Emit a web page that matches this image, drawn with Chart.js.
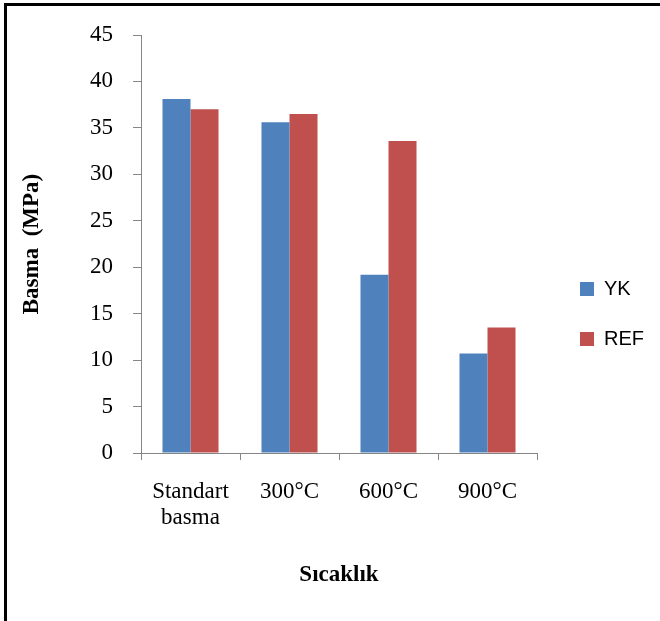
<!DOCTYPE html>
<html>
<head>
<meta charset="utf-8">
<script src="https://cdn.jsdelivr.net/npm/chart.js@4"></script>
<style>
  html, body { margin: 0; padding: 0; background: #fff; overflow: hidden; }
  #frame { position: absolute; left: 4px; top: 3px; width: 720px; height: 700px; border: 3px solid #000; }
  #wrap { position: absolute; left: 0; top: 0; width: 660px; height: 621px; }
</style>
</head>
<body>
<div id="frame"></div>
<div id="wrap"><canvas id="basmaChart" width="660" height="621"></canvas></div>
<script>
const categories = [['Standart', 'basma'], '300°C', '600°C', '900°C'];
const ykValues = [38.1, 35.6, 19.2, 10.7];
const refValues = [37.0, 36.5, 33.6, 13.5];
const yTicks = [0, 5, 10, 15, 20, 25, 30, 35, 40, 45];

const serif = "'Liberation Serif', 'Times New Roman', serif";
const axisGray = '#868686';

const data = {
    labels: categories,
    datasets: [{
        label: 'YK',
        data: ykValues,
        backgroundColor: '#4F81BD',
        borderWidth: 0,
    }, {
        label: 'REF',
        data: refValues,
        backgroundColor: '#C0504D',
        borderWidth: 0,
    }],
};

const config = {
    type: 'bar',
    data,
    options: {
        responsive: false,
        animation: false,
        datasets: {
            bar: { categoryPercentage: 0.566, barPercentage: 1.0 },
        },
        layout: {
            padding: { left: 10, top: 35, right: 6, bottom: 28 },
        },
        plugins: {
            tooltip: { enabled: false },
            legend: {
                position: 'right',
                labels: {
                    boxWidth: 14,
                    boxHeight: 14,
                    padding: 30,
                    color: '#000',
                    font: { family: "'Liberation Sans', Arial, sans-serif", size: 20 },
                },
            },
        },
        scales: {
            x: {
                afterFit: (scale) => { scale.height = 140; },
                grid: {
                    display: true,
                    drawOnChartArea: false,
                    offset: true,
                    tickLength: 7,
                    color: axisGray,
                },
                border: { color: axisGray, width: 1 },
                ticks: {
                    color: '#000',
                    padding: 18,
                    maxRotation: 0,
                    font: { family: serif, size: 23, lineHeight: 1.17 },
                },
                title: {
                    display: true,
                    text: 'Sıcaklık',
                    color: '#000',
                    padding: { top: 0, bottom: 4 },
                    font: { family: serif, size: 23, weight: 'bold' },
                },
            },
            y: {
                min: 0,
                max: 45,
                afterFit: (scale) => { scale.width = 131; },
                afterBuildTicks: (scale) => {
                    scale.ticks = yTicks.map((v) => ({ value: v }));
                },
                grid: {
                    display: true,
                    drawOnChartArea: false,
                    tickLength: 8,
                    color: axisGray,
                },
                border: { color: axisGray, width: 1 },
                ticks: {
                    color: '#000',
                    padding: 20,
                    font: { family: serif, size: 23 },
                },
                title: {
                    display: true,
                    text: 'Basma  (MPa)',
                    color: '#000',
                    padding: { top: 8, bottom: 0 },
                    font: { family: serif, size: 23, weight: 'bold' },
                },
            },
            // empty spacer between the plot and the legend
            gap: {
                type: 'linear',
                position: 'right',
                display: true,
                afterFit: (scale) => { scale.width = 13; },
                grid: { display: false },
                border: { display: false },
                ticks: { display: false },
            },
        },
    },
};

const chartCanvas = document.getElementById('basmaChart');
const basmaChart = new Chart(chartCanvas, config);
</script>
</body>
</html>
